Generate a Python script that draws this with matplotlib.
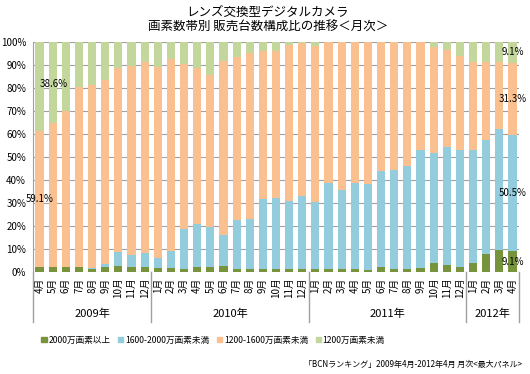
import numpy as np
import matplotlib.pyplot as plt
import matplotlib.transforms as mtransforms
from matplotlib.patches import Patch

plt.rcParams['font.family'] = ['Noto Sans CJK JP', 'DejaVu Sans']

# ---- data (%), 2009-04 .. 2012-04 ----
years = ['2009年', '2010年', '2011年', '2012年']
year_months = [list(range(4, 13)), list(range(1, 13)), list(range(1, 13)), list(range(1, 5))]
month_labels = [f'{m}月' for ms in year_months for m in ms]

series_names = ['2000万画素以上', '1600-2000万画素未満', '1200-1600万画素未満', '1200万画素未満']
colors = ['#77933C', '#93CDDD', '#FAC090', '#C3D69B']

px20 = [2.2, 2.2, 2.2, 2.2, 1.5, 2.2, 2.8, 2.2, 2.2,
        1.8, 1.8, 1.3, 2.2, 2.2, 2.6, 1.2, 1.3, 1.3, 1.5, 1.5, 1.5,
        1.2, 1.2, 1.2, 1.2, 0.9, 2.2, 1.5, 1.2, 1.8, 4.0, 2.9, 2.2,
        4.0, 7.7, 9.7, 9.1]
px16 = [0.1, 0.0, 0.0, 0.0, 0.3, 1.3, 6.0, 5.3, 6.2,
        4.2, 7.3, 17.4, 18.6, 17.5, 13.5, 21.4, 21.9, 30.4, 30.6, 29.3, 31.6,
        29.3, 37.3, 34.5, 37.3, 37.3, 41.6, 42.8, 45.0, 51.3, 47.7, 51.2, 50.9,
        49.1, 49.8, 52.4, 50.5]
px12 = [59.1, 62.3, 67.7, 78.0, 79.2, 79.7, 79.8, 81.8, 82.6,
        82.9, 83.2, 71.7, 67.9, 65.8, 75.5, 70.7, 71.7, 64.3, 63.9, 67.9, 66.2,
        67.8, 61.2, 64.1, 61.3, 61.6, 56.0, 55.5, 53.6, 46.7, 45.8, 42.4, 40.7,
        38.1, 33.7, 29.1, 31.3]
px_low = [38.6, 35.5, 30.1, 19.8, 19.0, 16.8, 11.4, 10.7, 9.0,
          11.1, 7.7, 9.6, 11.3, 14.5, 8.4, 6.7, 5.1, 4.0, 4.0, 1.3, 0.7,
          1.7, 0.3, 0.2, 0.2, 0.2, 0.2, 0.2, 0.2, 0.2, 2.5, 3.5, 6.2,
          8.8, 8.8, 8.8, 9.1]

data = np.array([px20, px16, px12, px_low])
x = np.arange(len(month_labels))

fig = plt.figure(figsize=(5.3, 3.74), dpi=100)
ax = fig.add_axes([33 / 530, 1 - 272 / 374, 486 / 530, 230.3 / 374])

bottom = np.zeros(len(x))
for vals, col in zip(data, colors):
    ax.bar(x, vals, bottom=bottom, width=0.62, color=col, zorder=3)
    bottom += vals

ax.set_xlim(-0.5, len(x) - 0.5)
ax.set_ylim(0, 100)
ax.set_yticks(np.arange(0, 101, 10))
ax.set_yticklabels([f'{v}%' for v in range(0, 101, 10)], fontsize=7)
ax.grid(axis='y', color='#A0A0A0', linewidth=0.8, zorder=0)
ax.set_xticks(x)
ax.set_xticklabels(month_labels, rotation=90, fontsize=7)
ax.tick_params(axis='both', length=0)
ax.tick_params(axis='x', pad=4)
ax.tick_params(axis='y', pad=5)
for s in ['top', 'right', 'bottom']:
    ax.spines[s].set_visible(False)
ax.spines['left'].set_color('#A0A0A0')

# year groups
trans = mtransforms.blended_transform_factory(ax.transData, ax.transAxes)
start = 0
edges = [-0.5]
for yr, ms in zip(years, year_months):
    end = start + len(ms)
    ax.text((start + end - 1) / 2, -0.18, yr, transform=trans,
            ha='center', va='center', fontsize=8)
    edges.append(end - 0.5)
    start = end
for e in edges:
    ax.plot([e, e], [0, -0.217], transform=trans, color='#A0A0A0',
            linewidth=1, clip_on=False)

# data labels: first and last month
cum = np.cumsum(data, axis=0)
first, last = 0, len(x) - 1
ax.text(first, cum[1, first] + px12[first] / 2, f'{px12[first]:.1f}%',
        ha='center', va='center', fontsize=7, zorder=5)
ax.text(first, cum[2, first] + px_low[first] / 2 + 1, f'{px_low[first]:.1f}%',
        ha='left', va='center', fontsize=7, zorder=5)
for k, vals in enumerate(data):
    ax.text(last, cum[k, last] - vals[last] / 2, f'{vals[last]:.1f}%',
            ha='center', va='center', fontsize=7, zorder=5)

fig.text(0.505, 0.947, 'レンズ交換型デジタルカメラ\n画素数帯別 販売台数構成比の推移＜月次＞',
         ha='center', va='center', fontsize=9, linespacing=1.25)

handles = [Patch(color=c, label=n) for c, n in zip(colors, series_names)]
fig.legend(handles=handles, loc='center left', bbox_to_anchor=(38 / 530, 1 - 340 / 374),
           ncol=4, frameon=False, fontsize=6.2, handlelength=0.6, handleheight=0.6,
           handletextpad=0.2, columnspacing=0.9, borderaxespad=0)

fig.text(522 / 530, 1 - 364 / 374, '「BCNランキング」2009年4月-2012年4月 月次<最大パネル>',
         ha='right', va='center', fontsize=5.8)

fig.savefig('out.png', dpi=100)
